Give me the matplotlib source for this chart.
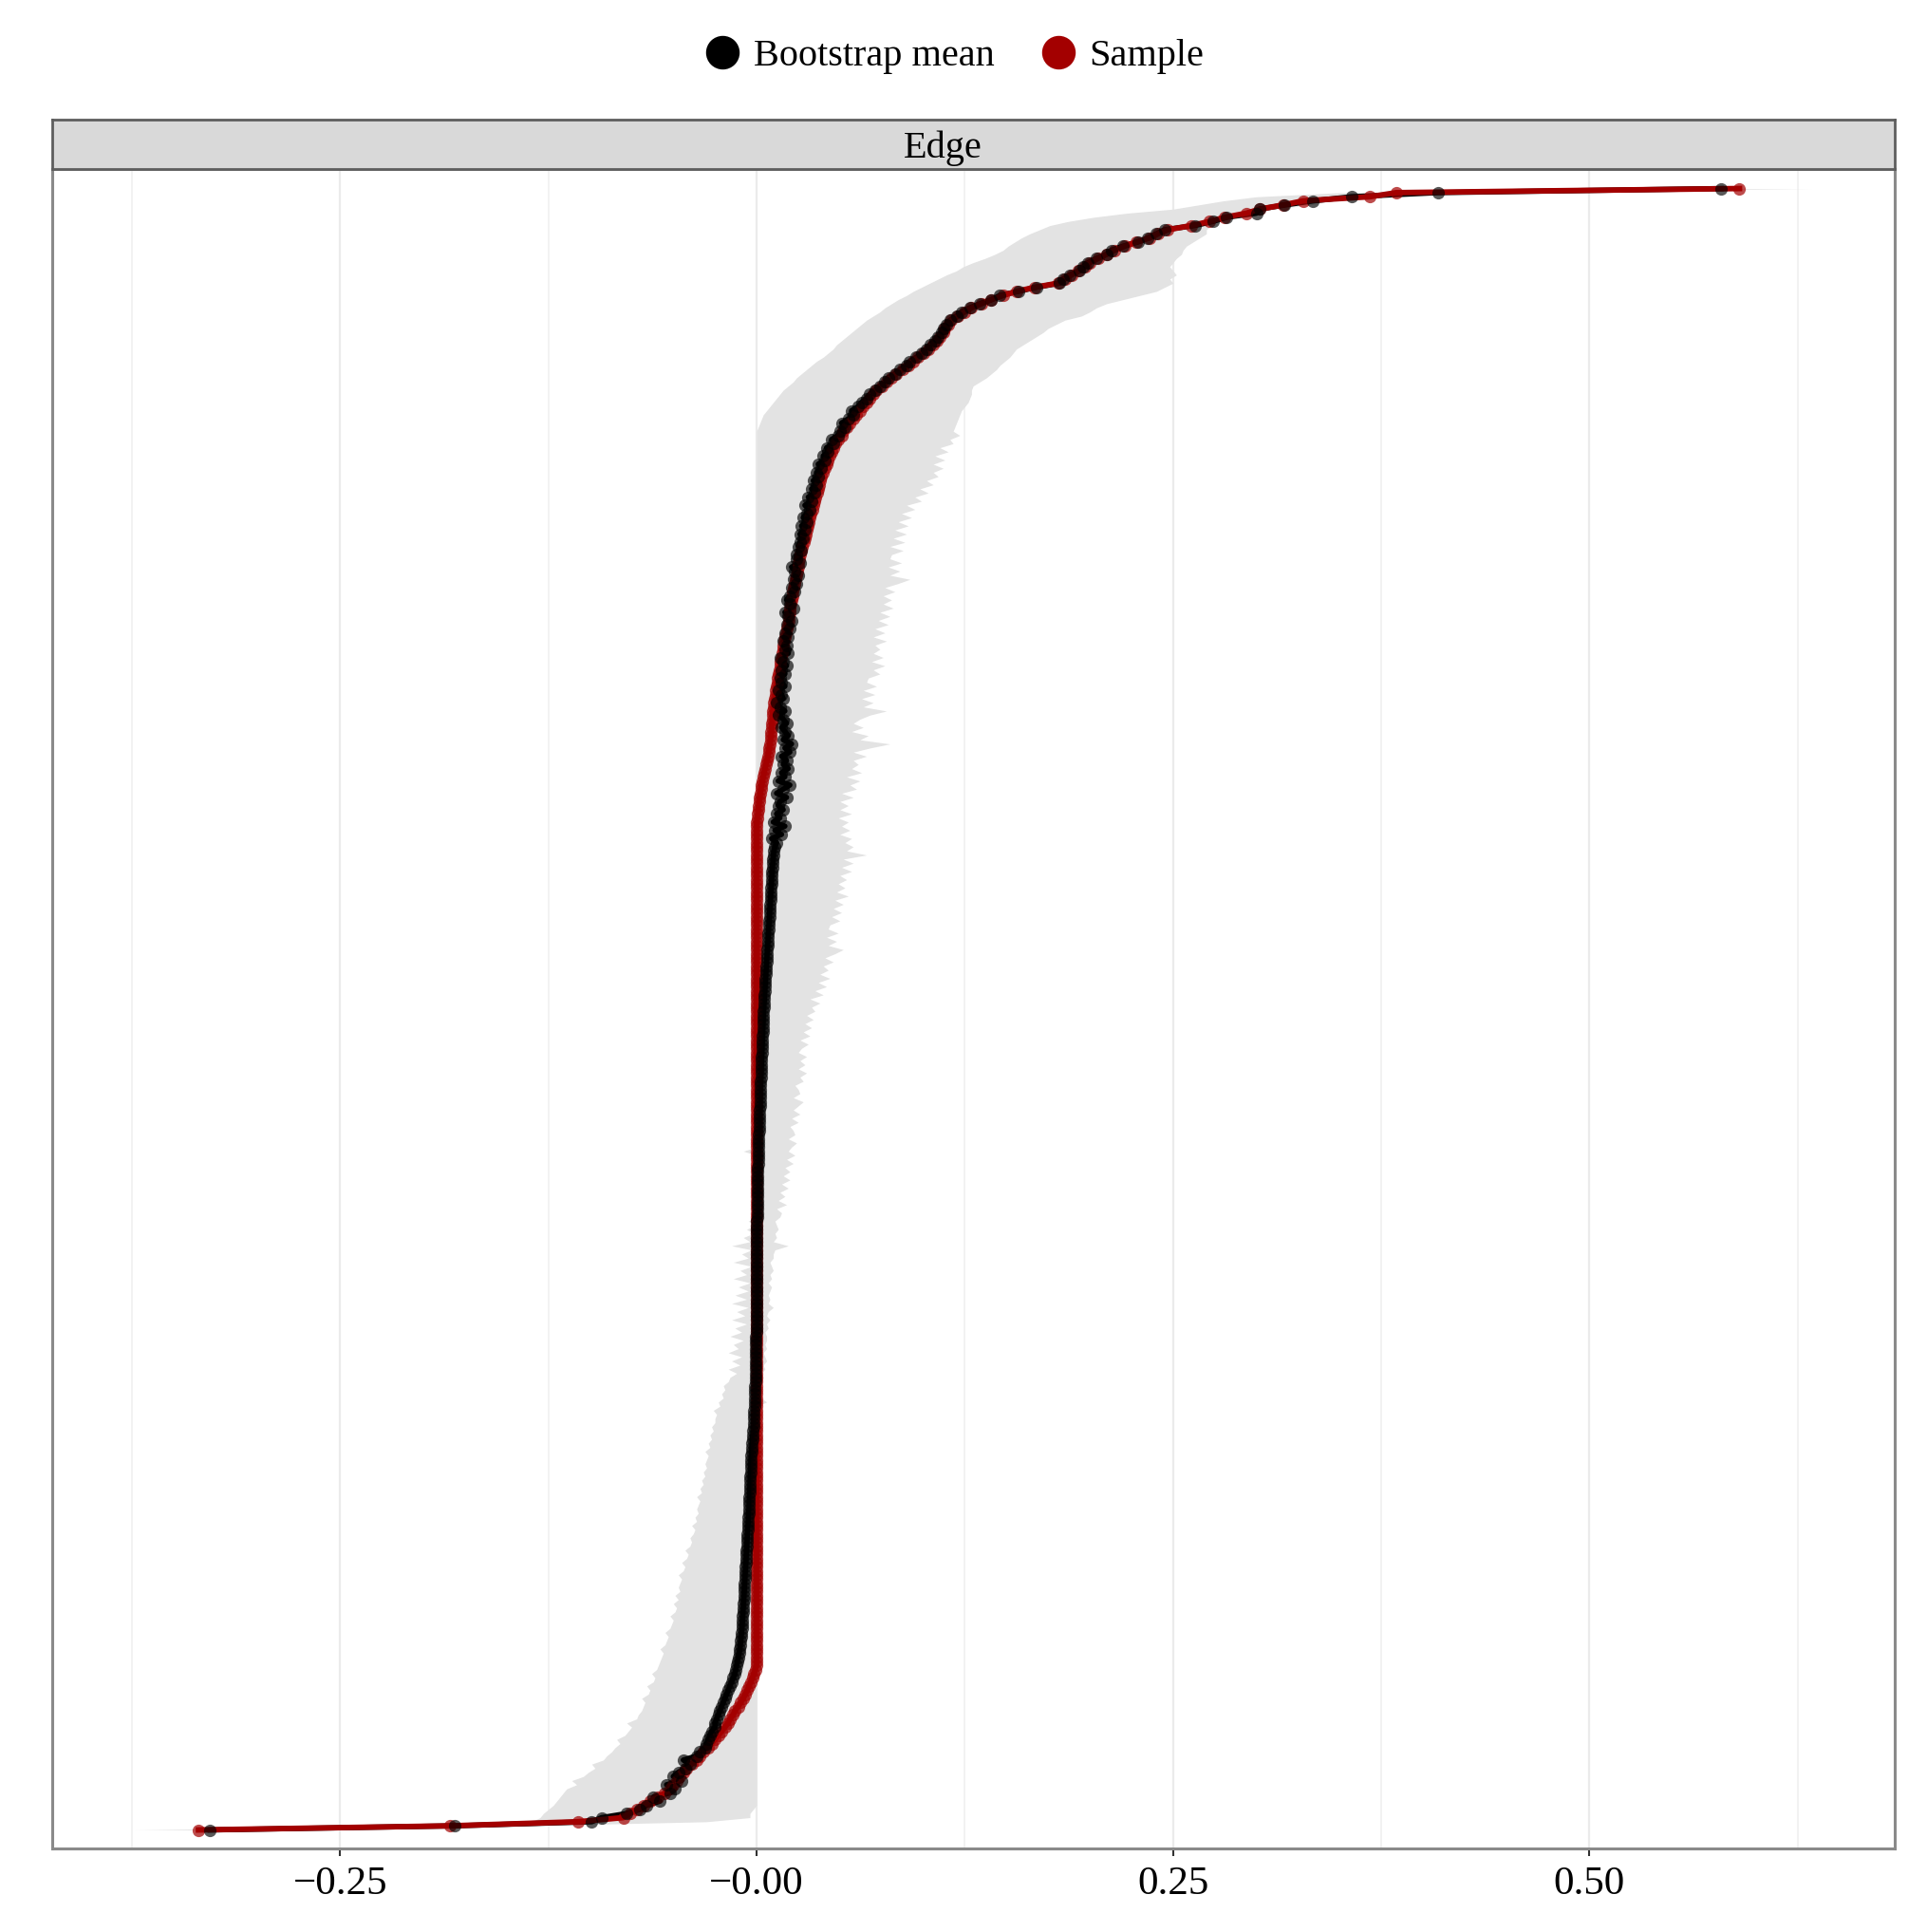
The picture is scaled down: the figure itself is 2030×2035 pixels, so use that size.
import numpy as np
import matplotlib
matplotlib.use("Agg")
import matplotlib.pyplot as plt
from matplotlib.lines import Line2D

plt.rcParams["font.family"] = ["Liberation Serif", "DejaVu Serif"]

# Edge weights, sorted from the most negative edge (bottom) to the largest (top)
sample = [
    -0.335, -0.184, -0.107, -0.080, -0.076, -0.072, -0.068, -0.064, -0.059, -0.055,
    -0.052, -0.050, -0.048, -0.046, -0.044, -0.042, -0.039, -0.036, -0.034, -0.032,
    -0.029, -0.027, -0.025, -0.023, -0.021, -0.019, -0.017, -0.016, -0.014, -0.013,
    -0.011, -0.0095, -0.008, -0.0068, -0.0055, -0.0045, -0.0035, -0.0025, -0.0015, -0.0008,
    0, 0, 0, 0, 0, 0, 0, 0, 0, 0,
    0, 0, 0, 0, 0, 0, 0, 0, 0, 0,
    0, 0, 0, 0, 0, 0, 0, 0, 0, 0,
    0, 0, 0, 0, 0, 0, 0, 0, 0, 0,
    0, 0, 0, 0, 0, 0, 0, 0, 0, 0,
    0, 0, 0, 0, 0, 0, 0, 0, 0, 0,
    0, 0, 0, 0, 0, 0, 0, 0, 0, 0,
    0, 0, 0, 0, 0, 0, 0, 0, 0, 0,
    0, 0, 0, 0, 0, 0, 0, 0, 0, 0,
    0, 0, 0, 0, 0, 0, 0, 0, 0, 0,
    0, 0, 0, 0, 0, 0, 0, 0, 0, 0,
    0, 0, 0, 0, 0, 0, 0, 0, 0, 0,
    0, 0, 0, 0, 0, 0, 0, 0, 0, 0,
    0, 0, 0, 0, 0, 0, 0, 0, 0, 0,
    0, 0, 0, 0, 0, 0, 0, 0, 0, 0,
    0, 0, 0, 0, 0, 0, 0, 0, 0, 0,
    0, 0, 0, 0, 0, 0, 0, 0, 0, 0,
    0, 0, 0, 0, 0, 0, 0, 0, 0, 0,
    0, 0, 0, 0, 0, 0, 0, 0, 0, 0,
    0, 0, 0, 0, 0, 0, 0, 0, 0, 0,
    0, 0, 0, 0, 0, 0, 0.0005, 0.0008, 0.001, 0.0013,
    0.0016, 0.0019, 0.0022, 0.0026, 0.003, 0.0035, 0.004, 0.0045, 0.005, 0.0056,
    0.0062, 0.0068, 0.0072, 0.0076, 0.008, 0.0083, 0.0086, 0.0088, 0.009, 0.0092,
    0.0094, 0.0096, 0.0098, 0.0101, 0.0104, 0.0108, 0.0112, 0.0116, 0.012, 0.0124,
    0.0128, 0.0132, 0.0136, 0.014, 0.0144, 0.0148, 0.0152, 0.0157, 0.0162, 0.0167,
    0.0172, 0.0177, 0.0182, 0.0187, 0.0191, 0.0195, 0.0198, 0.0202, 0.0206, 0.021,
    0.0214, 0.0219, 0.0224, 0.0228, 0.0233, 0.0238, 0.0243, 0.0248, 0.0253, 0.0258,
    0.0264, 0.027, 0.0276, 0.0282, 0.0288, 0.0294, 0.03, 0.0306, 0.0313, 0.032,
    0.0327, 0.0334, 0.0341, 0.0348, 0.0355, 0.0362, 0.0369, 0.0376, 0.0383, 0.039,
    0.04, 0.041, 0.042, 0.043, 0.044, 0.045, 0.046, 0.047, 0.049, 0.051,
    0.052, 0.054, 0.056, 0.058, 0.06, 0.062, 0.064, 0.066, 0.068, 0.07,
    0.072, 0.075, 0.078, 0.081, 0.084, 0.088, 0.091, 0.094, 0.097, 0.1,
    0.103, 0.106, 0.108, 0.11, 0.112, 0.113, 0.115, 0.117, 0.121, 0.125,
    0.129, 0.135, 0.141, 0.148, 0.156, 0.167, 0.181, 0.185, 0.189, 0.193,
    0.197, 0.2, 0.205, 0.21, 0.215, 0.221, 0.228, 0.236, 0.241, 0.247,
    0.261, 0.272, 0.281, 0.294, 0.302, 0.316, 0.328, 0.368, 0.384, 0.59,
]

boot_mean = [
    -0.328, -0.181, -0.099, -0.093, -0.078, -0.07, -0.066, -0.058, -0.062, -0.052,
    -0.049, -0.054, -0.045, -0.05, -0.047, -0.043, -0.04, -0.044, -0.036, -0.034,
    -0.031, -0.03, -0.029, -0.028, -0.027, -0.025, -0.025, -0.024, -0.023, -0.022,
    -0.021, -0.02, -0.019, -0.018, -0.017, -0.016, -0.015, -0.014, -0.013, -0.0125,
    -0.012, -0.0115, -0.011, -0.0105, -0.01, -0.0098, -0.0095, -0.0093, -0.009, -0.0088,
    -0.0086, -0.0085, -0.0083, -0.0082, -0.008, -0.0079, -0.0077, -0.0076, -0.0074, -0.0073,
    -0.0072, -0.007, -0.0069, -0.0067, -0.0066, -0.0064, -0.0063, -0.0062, -0.006, -0.0059,
    -0.0058, -0.0056, -0.0055, -0.0053, -0.0052, -0.005, -0.0049, -0.0048, -0.0046, -0.0045,
    -0.0044, -0.0043, -0.0042, -0.0041, -0.004, -0.0039, -0.0038, -0.0037, -0.0036, -0.0035,
    -0.0034, -0.0032, -0.003, -0.0029, -0.0027, -0.0025, -0.0023, -0.0021, -0.002, -0.0018,
    -0.0017, -0.0016, -0.0015, -0.0014, -0.0013, -0.0012, -0.0011, -0.001, -0.0009, -0.0008,
    -0.0008, -0.0007, -0.0007, -0.0006, -0.0006, -0.0005, -0.0005, -0.0004, -0.0004, -0.0003,
    -0.0003, -0.0002, -0.0002, -0.0001, -0.0001, 0, 0, 0, 0, 0,
    0, 0, 0, 0, 0, 0, 0, 0, 0, 0,
    0, 0, 0, 0.0001, 0.0001, 0.0001, 0.0002, 0.0002, 0.0002, 0.0003,
    0.0003, 0.0003, 0.0004, 0.0004, 0.0005, 0.0005, 0.0006, 0.0006, 0.0007, 0.0007,
    0.0008, 0.0008, 0.0009, 0.001, 0.001, 0.0011, 0.0012, 0.0012, 0.0013, 0.0014,
    0.0015, 0.0015, 0.0016, 0.0017, 0.0018, 0.0019, 0.002, 0.002, 0.0021, 0.0022,
    0.0023, 0.0024, 0.0025, 0.0026, 0.0027, 0.0028, 0.0029, 0.003, 0.0031, 0.0032,
    0.0033, 0.0034, 0.0035, 0.0036, 0.0037, 0.0038, 0.0039, 0.004, 0.0041, 0.0042,
    0.0044, 0.0045, 0.0047, 0.0048, 0.005, 0.0051, 0.0053, 0.0054, 0.0056, 0.0057,
    0.0059, 0.006, 0.0062, 0.0063, 0.0065, 0.0066, 0.0068, 0.0069, 0.0071, 0.0072,
    0.0074, 0.0075, 0.0077, 0.0078, 0.008, 0.0081, 0.0083, 0.0084, 0.0086, 0.0087,
    0.0089, 0.009, 0.0092, 0.0093, 0.0095, 0.0097, 0.0099, 0.0101, 0.0104, 0.011,
    0.012, 0.009, 0.015, 0.011, 0.017, 0.01, 0.014, 0.012, 0.016, 0.013,
    0.014, 0.018, 0.012, 0.016, 0.02, 0.013, 0.017, 0.015, 0.019, 0.016,
    0.018, 0.015, 0.02, 0.017, 0.021, 0.016, 0.019, 0.017, 0.015, 0.018,
    0.016, 0.013, 0.017, 0.014, 0.012, 0.016, 0.015, 0.013, 0.017, 0.015,
    0.014, 0.017, 0.015, 0.018, 0.016, 0.014, 0.019, 0.017, 0.018, 0.016,
    0.019, 0.017, 0.02, 0.018, 0.021, 0.019, 0.017, 0.022, 0.02, 0.018,
    0.02, 0.023, 0.021, 0.024, 0.022, 0.025, 0.023, 0.021, 0.026, 0.024,
    0.024, 0.027, 0.025, 0.026, 0.028, 0.026, 0.029, 0.027, 0.03, 0.028,
    0.03, 0.032, 0.029, 0.033, 0.031, 0.035, 0.033, 0.036, 0.034, 0.037,
    0.036, 0.039, 0.037, 0.041, 0.04, 0.043, 0.042, 0.046, 0.045, 0.049,
    0.05, 0.053, 0.051, 0.055, 0.058, 0.057, 0.061, 0.063, 0.066, 0.068,
    0.071, 0.074, 0.077, 0.079, 0.083, 0.086, 0.09, 0.092, 0.096, 0.099,
    0.102, 0.104, 0.107, 0.109, 0.111, 0.112, 0.114, 0.116, 0.12, 0.123,
    0.128, 0.134, 0.141, 0.146, 0.157, 0.168, 0.182, 0.184, 0.188, 0.194,
    0.196, 0.199, 0.204, 0.21, 0.213, 0.22, 0.229, 0.235, 0.24, 0.245,
    0.263, 0.274, 0.282, 0.3, 0.302, 0.317, 0.334, 0.357, 0.409, 0.579,
]

ci_lower = [
    -0.373, -0.21, -0.135, -0.13, -0.128, -0.125, -0.122, -0.12, -0.118, -0.116,
    -0.114, -0.108, -0.111, -0.104, -0.101, -0.097, -0.099, -0.092, -0.09, -0.087,
    -0.085, -0.082, -0.084, -0.079, -0.077, -0.075, -0.078, -0.072, -0.071, -0.069,
    -0.068, -0.067, -0.069, -0.065, -0.064, -0.066, -0.062, -0.061, -0.063, -0.06,
    -0.059, -0.058, -0.057, -0.056, -0.058, -0.055, -0.054, -0.053, -0.055, -0.052,
    -0.051, -0.05, -0.052, -0.049, -0.048, -0.05, -0.047, -0.049, -0.046, -0.047,
    -0.046, -0.045, -0.047, -0.044, -0.043, -0.045, -0.042, -0.041, -0.043, -0.04,
    -0.039, -0.04, -0.038, -0.037, -0.039, -0.036, -0.037, -0.035, -0.036, -0.035,
    -0.034, -0.036, -0.033, -0.034, -0.032, -0.033, -0.031, -0.032, -0.03, -0.031,
    -0.03, -0.029, -0.031, -0.028, -0.029, -0.027, -0.028, -0.026, -0.027, -0.025,
    -0.025, -0.024, -0.026, -0.022, -0.023, -0.02, -0.021, -0.019, -0.02, -0.017,
    -0.016, -0.012, -0.017, -0.01, -0.015, -0.009, -0.017, -0.011, -0.014, -0.008,
    -0.016, -0.009, -0.013, -0.006, -0.015, -0.007, -0.012, -0.005, -0.015, -0.006,
    -0.013, -0.005, -0.011, -0.004, -0.014, -0.006, -0.01, -0.003, -0.014, -0.005,
    -0.009, -0.003, -0.015, -0.004, -0.008, -0.002, -0.006, -0.001, -0.005, 0,
    -0.003, 0, -0.002, 0, -0.001, 0, -0.004, 0, 0, -0.001,
    0, 0, -0.002, 0, 0, -0.008, 0, 0, -0.001, 0,
    0, 0, 0, 0, 0, 0, 0, 0, 0, 0,
    0, 0, 0, 0, 0, 0, 0, 0, 0, 0,
    0, 0, 0, 0, 0, 0, 0, 0, 0, 0,
    0, 0, 0, 0, 0, 0, 0, 0, 0, 0,
    0, 0, 0, 0, 0, 0, 0, 0, 0, 0,
    0, 0, 0, 0, 0, 0, 0, 0, 0, 0,
    0, 0, 0, 0, 0, 0, 0, 0, 0, 0,
    0, 0, 0, 0, 0, 0, 0, 0, 0, 0,
    0, 0, 0, 0, 0, 0, 0, 0, 0, 0,
    0, 0, 0, 0, 0, 0, 0, 0, 0, 0,
    0, 0, 0, 0, 0, 0, 0, 0, 0, 0,
    0, 0, 0, 0, 0, 0, 0, 0, 0, 0,
    0, 0, 0, 0, 0, 0, 0, 0, 0, 0,
    0, 0, 0, 0, 0, 0, 0, 0, 0, 0,
    0, 0, 0, 0, 0, 0, 0, 0, 0, 0,
    0, 0, 0, 0, 0, 0, 0, 0, 0, 0,
    0, 0, 0, 0, 0, 0, 0, 0, 0, 0,
    0, 0.001, 0.002, 0.003, 0.004, 0.006, 0.008, 0.01, 0.012, 0.014,
    0.016, 0.019, 0.022, 0.024, 0.027, 0.03, 0.033, 0.036, 0.04, 0.043,
    0.046, 0.048, 0.051, 0.054, 0.057, 0.06, 0.063, 0.066, 0.07, 0.074,
    0.077, 0.081, 0.085, 0.09, 0.094, 0.099, 0.104, 0.109, 0.114, 0.12,
    0.124, 0.13, 0.137, 0.143, 0.148, 0.151, 0.155, 0.159, 0.164, 0.17,
    0.176, 0.187, 0.202, 0.222, 0.25, 0.265, 0.28, 0.3, 0.35, 0.55,
]

ci_upper = [
    -0.29, -0.14, -0.03, -0.004, -0.004, -0.002, 0, 0, 0, 0,
    0, 0, 0, 0, 0, 0, 0, 0, 0, 0,
    0, 0, 0, 0, 0, 0, 0, 0, 0, 0,
    0, 0, 0, 0, 0, 0, 0, 0, 0, 0,
    0, 0, 0, 0, 0, 0, 0, 0, 0, 0,
    0, 0, 0, 0, 0, 0, 0, 0, 0, 0,
    0, 0, 0, 0, 0, 0, 0, 0, 0, 0,
    0, 0, 0, 0, 0, 0, 0, 0, 0, 0,
    0, 0, 0, 0, 0, 0, 0, 0, 0, 0,
    0, 0, 0, 0, 0, 0, 0, 0, 0, 0,
    0.001, 0, 0.002, 0, 0.006, 0.003, 0, 0.002, 0.001, 0.003,
    0.004, 0.003, 0.005, 0.004, 0.006, 0.005, 0.004, 0.006, 0.005, 0.006,
    0.006, 0.005, 0.007, 0.006, 0.008, 0.006, 0.007, 0.01, 0.007, 0.008,
    0.007, 0.008, 0.009, 0.007, 0.009, 0.008, 0.01, 0.009, 0.008, 0.01,
    0.01, 0.011, 0.019, 0.01, 0.012, 0.011, 0.013, 0.012, 0.011, 0.014,
    0.015, 0.012, 0.018, 0.013, 0.017, 0.014, 0.019, 0.015, 0.02, 0.016,
    0.02, 0.017, 0.022, 0.018, 0.023, 0.019, 0.021, 0.024, 0.019, 0.023,
    0.022, 0.02, 0.025, 0.021, 0.026, 0.022, 0.025, 0.028, 0.022, 0.026,
    0.025, 0.023, 0.028, 0.026, 0.03, 0.025, 0.029, 0.026, 0.03, 0.025,
    0.027, 0.031, 0.026, 0.032, 0.028, 0.033, 0.029, 0.034, 0.03, 0.035,
    0.033, 0.038, 0.032, 0.04, 0.035, 0.042, 0.037, 0.044, 0.038, 0.043,
    0.04, 0.046, 0.041, 0.047, 0.052, 0.043, 0.048, 0.042, 0.049, 0.043,
    0.044, 0.05, 0.045, 0.051, 0.046, 0.052, 0.047, 0.055, 0.048, 0.053,
    0.049, 0.054, 0.05, 0.057, 0.051, 0.058, 0.052, 0.066, 0.054, 0.058,
    0.053, 0.057, 0.05, 0.056, 0.051, 0.055, 0.049, 0.057, 0.05, 0.055,
    0.05, 0.058, 0.051, 0.06, 0.056, 0.062, 0.054, 0.063, 0.057, 0.061,
    0.058, 0.066, 0.058, 0.068, 0.08, 0.062, 0.067, 0.057, 0.064, 0.058,
    0.062, 0.068, 0.078, 0.064, 0.07, 0.063, 0.071, 0.064, 0.072, 0.066,
    0.067, 0.074, 0.07, 0.077, 0.069, 0.076, 0.07, 0.074, 0.071, 0.078,
    0.07, 0.077, 0.071, 0.079, 0.073, 0.08, 0.074, 0.082, 0.076, 0.081,
    0.076, 0.083, 0.077, 0.085, 0.092, 0.08, 0.086, 0.079, 0.087, 0.08,
    0.081, 0.088, 0.08, 0.089, 0.082, 0.09, 0.083, 0.091, 0.085, 0.093,
    0.087, 0.095, 0.09, 0.099, 0.095, 0.103, 0.098, 0.106, 0.102, 0.109,
    0.106, 0.112, 0.106, 0.113, 0.107, 0.115, 0.11, 0.118, 0.116, 0.122,
    0.118, 0.119, 0.12, 0.121, 0.122, 0.123, 0.125, 0.127, 0.128, 0.129,
    0.129, 0.13, 0.134, 0.138, 0.141, 0.144, 0.146, 0.149, 0.152, 0.154,
    0.156, 0.16, 0.164, 0.168, 0.172, 0.175, 0.18, 0.185, 0.195, 0.2,
    0.204, 0.21, 0.22, 0.23, 0.24, 0.245, 0.25, 0.248, 0.252, 0.25,
    0.248, 0.25, 0.252, 0.255, 0.256, 0.258, 0.262, 0.266, 0.27, 0.27,
    0.273, 0.276, 0.285, 0.299, 0.31, 0.332, 0.345, 0.377, 0.42, 0.633,
]

x_ticks = [-0.25, 0.0, 0.25, 0.5]
x_tick_labels = ["\u22120.25", "\u22120.00", "0.25", "0.50"]
legend_labels = ["Bootstrap mean", "Sample"]
facet_title = "Edge"

RED = "#A30000"
RIBBON = "#E3E3E3"

fig = plt.figure(figsize=(20.30, 20.35), dpi=100)
ax = fig.add_axes([0.02685, 0.04324, 0.9564, 0.86929])

y = np.arange(len(sample))

# bootstrap CI band
ax.fill_betweenx(y, ci_lower, ci_upper, color=RIBBON, lw=0, zorder=1)

# lines
ax.plot(boot_mean, y, color="black", lw=4.0, zorder=2, solid_joinstyle="round")
ax.plot(sample, y, color=RED, lw=4.2, zorder=3, solid_joinstyle="round")

# points
ax.plot(sample, y, ls="", marker="o", ms=9.5, color=RED, alpha=0.7,
        markeredgewidth=0, zorder=4)
ax.plot(boot_mean, y, ls="", marker="o", ms=9.5, color="black", alpha=0.65,
        markeredgewidth=0, zorder=5)

ax.set_xlim(-0.4231, 0.6832)
ax.set_ylim(-4.5, len(sample) - 1 + 4.75)

ax.set_xticks(x_ticks)
ax.set_xticklabels(x_tick_labels)
ax.set_xticks([t + 0.125 for t in [-0.5] + x_ticks], minor=True)
ax.set_axisbelow(True)
ax.grid(axis="x", which="major", color="#EBEBEB", lw=1.6)
ax.grid(axis="x", which="minor", color="#F0F0F0", lw=1.2)
ax.tick_params(axis="x", which="major", length=5.5, width=1.5, color="#333333",
               pad=8, labelsize=31, labelcolor="black")
ax.tick_params(axis="x", which="minor", length=0)
ax.tick_params(axis="y", left=False, labelleft=False)
for s in ax.spines.values():
    s.set_color("#8A8A8A")
    s.set_linewidth(2.2)

# facet strip
strip = fig.add_axes([0.02685, 0.91253, 0.9564, 0.02555])
strip.set_facecolor("#D9D9D9")
strip.set_xticks([])
strip.set_yticks([])
for s in strip.spines.values():
    s.set_color("#5E5E5E")
    s.set_linewidth(2.0)
fig.text(0.4892, 0.9234, facet_title, ha="center", va="center", fontsize=29)

# legend
handles = [
    Line2D([], [], ls="", marker="o", ms=24.5, color="black"),
    Line2D([], [], ls="", marker="o", ms=24.5, color=RED),
]
fig.legend(handles, legend_labels, loc="center", bbox_to_anchor=(0.495, 0.9708),
           ncol=2, frameon=False, fontsize=29, handlelength=1.0,
           handletextpad=0.32, columnspacing=1.15, borderpad=0)

fig.savefig("out.png", dpi=100, facecolor="white")
